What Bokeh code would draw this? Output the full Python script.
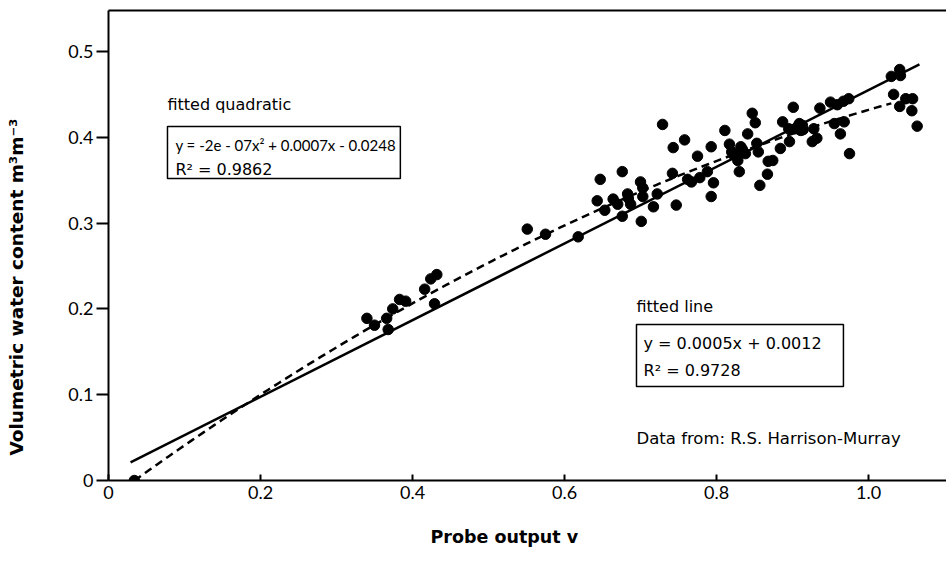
import numpy as np
from bokeh.plotting import figure
from bokeh.models import Range1d, LinearAxis, FixedTicker, Label, BoxAnnotation, Title
from bokeh.embed import file_html
from bokeh.resources import INLINE

# ---- data ----
probe_v = [0.034,
           0.340, 0.350, 0.368, 0.366, 0.374, 0.383, 0.391, 0.416, 0.424, 0.432, 0.429,
           0.551, 0.575, 0.618,
           0.643, 0.647, 0.653, 0.664, 0.670, 0.676, 0.676, 0.683, 0.684, 0.687,
           0.700, 0.703, 0.703, 0.701, 0.717, 0.722, 0.729, 0.742, 0.743, 0.747,
           0.758, 0.762, 0.767, 0.775, 0.778, 0.788, 0.793, 0.793, 0.796, 0.811,
           0.817, 0.822, 0.828, 0.832, 0.830, 0.841, 0.847, 0.851, 0.853, 0.855,
           0.857, 0.867, 0.868, 0.820, 0.826, 0.834, 0.838,
           0.874, 0.884, 0.887, 0.896, 0.895, 0.901, 0.904, 0.909, 0.911, 0.913,
           0.926, 0.932, 0.928, 0.936, 0.950, 0.955, 0.959, 0.963, 0.967, 0.968,
           0.974, 0.975, 0.907, 0.914,
           1.030, 1.041, 1.042, 1.033, 1.041, 1.049, 1.058, 1.057, 1.064]
water = [0.000,
         0.189, 0.181, 0.176, 0.189, 0.200, 0.211, 0.209, 0.223, 0.235, 0.240, 0.206,
         0.293, 0.287, 0.284,
         0.326, 0.351, 0.315, 0.328, 0.322, 0.360, 0.308, 0.334, 0.329, 0.322,
         0.348, 0.341, 0.331, 0.302, 0.319, 0.334, 0.415, 0.358, 0.388, 0.321,
         0.397, 0.351, 0.348, 0.378, 0.353, 0.360, 0.389, 0.331, 0.347, 0.408,
         0.392, 0.380, 0.373, 0.389, 0.360, 0.404, 0.428, 0.417, 0.393, 0.383,
         0.344, 0.357, 0.372, 0.383, 0.378, 0.386, 0.381,
         0.373, 0.387, 0.418, 0.395, 0.410, 0.435, 0.410, 0.416, 0.408, 0.414,
         0.395, 0.399, 0.410, 0.434, 0.441, 0.416, 0.438, 0.404, 0.442, 0.418,
         0.445, 0.381, 0.413, 0.409,
         0.471, 0.479, 0.472, 0.450, 0.436, 0.445, 0.445, 0.431, 0.413]

x_ticks = [0, 0.2, 0.4, 0.6, 0.8, 1.0]
x_tick_labels = ["0", "0.2", "0.4", "0.6", "0.8", "1.0"]
y_ticks = [0, 0.1, 0.2, 0.3, 0.4, 0.5]
y_tick_labels = ["0", "0.1", "0.2", "0.3", "0.4", "0.5"]

# fitted line (as drawn) and fitted quadratic (as drawn)
line_x = [0.029, 1.067]
line_y = [0.021, 0.485]
quad_coef = [-0.195, 0.649, -0.022]   # a, b, c
quad_x_span = [0.034, 1.030]

quad_title = "fitted quadratic"
quad_eq = "y = -2e - 07x\u00b2 + 0.0007x - 0.0248"
quad_r2 = "R\u00b2 = 0.9862"
line_title = "fitted line"
line_eq = "y = 0.0005x + 0.0012"
line_r2 = "R\u00b2 = 0.9728"
source_note = "Data from: R.S. Harrison-Murray"
x_label = "Probe output v"
y_label = "Volumetric water content m\u00b3m\u207b\u00b3"

TICK_FONT = "Lato"
TEXT_FONT = "DejaVu Sans"

p = figure(width=946, height=570, output_backend="svg", toolbar_location=None,
           x_range=Range1d(0, 1.1026), y_range=Range1d(0, 0.5478),
           min_border_left=108, min_border_right=0, min_border_top=10,
           min_border_bottom=90, x_axis_location=None, y_axis_location=None)
p.grid.visible = False
p.outline_line_color = None
p.background_fill_color = "white"
p.border_fill_color = "white"

xa = LinearAxis(ticker=FixedTicker(ticks=x_ticks),
                major_label_overrides={t: l for t, l in zip(x_ticks, x_tick_labels)})
xa.axis_line_width = 2
xa.major_tick_line_width = 2
xa.major_tick_in = 6
xa.major_tick_out = 0
xa.minor_tick_line_color = None
xa.major_label_standoff = 5
xa.major_label_text_font = TICK_FONT
xa.major_label_text_font_size = "18px"
xa.major_label_text_color = "black"
p.add_layout(xa, "below")

ya = LinearAxis(ticker=FixedTicker(ticks=y_ticks),
                major_label_overrides={t: l for t, l in zip(y_ticks, y_tick_labels)})
ya.axis_line_width = 2
ya.major_tick_line_width = 2
ya.major_tick_in = 0
ya.major_tick_out = 12
ya.minor_tick_line_color = None
ya.major_label_standoff = 3
ya.major_label_text_font = TICK_FONT
ya.major_label_text_font_size = "18px"
ya.major_label_text_color = "black"
# blank spacer label so the axis title sits near the left edge
ya.axis_label = "\u00a0"
ya.axis_label_text_font_size = "2px"
ya.axis_label_standoff = 33
p.add_layout(ya, "left")

top = LinearAxis(ticker=FixedTicker(ticks=[]))
top.axis_line_width = 2
top.major_tick_in = 0
top.major_tick_out = 0
top.major_label_standoff = 0
top.major_label_text_font_size = "0px"
top.minor_tick_line_color = None
p.add_layout(top, "above")

# axis titles
p.add_layout(Title(text=x_label, align="left", offset=322, vertical_align="bottom",
                   standoff=46, text_font=TEXT_FONT, text_font_size="17.5px",
                   text_font_style="bold", text_color="black"), "below")
p.add_layout(Title(text=y_label, align="left", offset=25, vertical_align="bottom",
                   standoff=2, text_font=TEXT_FONT, text_font_size="18.5px",
                   text_font_style="bold", text_color="black"), "left")

# fits
p.line(line_x, line_y, line_color="black", line_width=2.5)
qx = np.linspace(quad_x_span[0], quad_x_span[1], 200)
qy = quad_coef[0] * qx ** 2 + quad_coef[1] * qx + quad_coef[2]
p.line(qx, qy, line_color="black", line_width=2.5, line_dash="8 5")

# points
p.scatter(probe_v, water, size=10.5, color="black")

def lab(x, y, text, size="16px", font=TEXT_FONT):
    p.add_layout(Label(x=x, y=y, text=text, text_font=font, text_font_size=size,
                       text_color="black", text_align="left", text_baseline="middle"))

# quadratic annotation
lab(0.0776, 0.438, quad_title)
p.add_layout(BoxAnnotation(left=0.0776, right=0.384, top=0.4126, bottom=0.352,
                           fill_color=None, line_color="black", line_alpha=1.0,
                           line_width=1.5))
lab(0.088, 0.3916, quad_eq, size="15px", font="Lato")
lab(0.088, 0.3625, quad_r2)

# line annotation
lab(0.6947, 0.2028, line_title)
p.add_layout(BoxAnnotation(left=0.6947, right=0.967, top=0.1818, bottom=0.1096,
                           fill_color=None, line_color="black", line_alpha=1.0,
                           line_width=1.5))
lab(0.704, 0.1597, line_eq)
lab(0.704, 0.1282, line_r2)

lab(0.6947, 0.049, source_note, size="16.5px")

open("out.html", "w").write(file_html(p, INLINE))
